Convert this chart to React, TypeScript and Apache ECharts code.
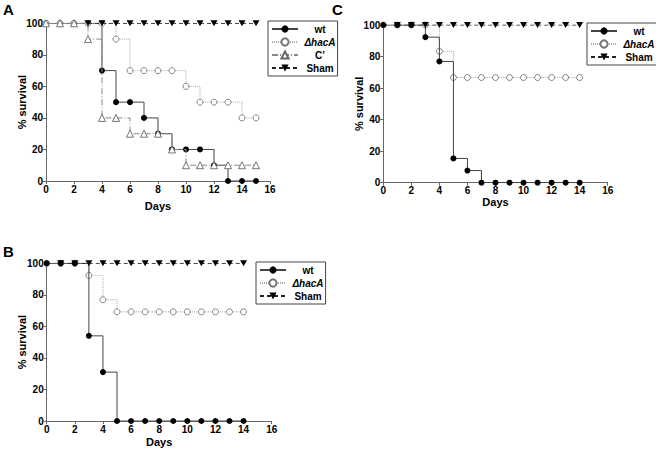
import React, { useEffect, useRef } from "react";
import * as echarts from "echarts";

const daysA = [0, 1, 2, 3, 4, 5, 6, 7, 8, 9, 10, 11, 12, 13, 14, 15];
const wtA = [100, 100, 100, 100, 70, 50, 50, 40, 30, 20, 20, 20, 10, 0, 0, 0];
const hacA_A = [100, 100, 100, 100, 100, 90, 70, 70, 70, 70, 60, 50, 50, 50, 40, 40];
const cA = [100, 100, 100, 90, 40, 40, 30, 30, 30, 20, 10, 10, 10, 10, 10, 10];
const shamA: (number | null)[] = [null, null, null, 100, 100, 100, 100, 100, 100, 100, 100, 100, 100, 100, 100, 100];

const daysB = [0, 1, 2, 3, 4, 5, 6, 7, 8, 9, 10, 11, 12, 13, 14];
const wtB = [100, 100, 100, 54, 31, 0, 0, 0, 0, 0, 0, 0, 0, 0, 0];
const hacA_B = [100, 100, 100, 92.3, 76.9, 69.2, 69.2, 69.2, 69.2, 69.2, 69.2, 69.2, 69.2, 69.2, 69.2];
const shamB: (number | null)[] = [null, 100, 100, 100, 100, 100, 100, 100, 100, 100, 100, 100, 100, 100, 100];

const daysC = [0, 1, 2, 3, 4, 5, 6, 7, 8, 9, 10, 11, 12, 13, 14];
const wtC = [100, 100, 100, 92.3, 76.9, 15.4, 7.7, 0, 0, 0, 0, 0, 0, 0, 0];
const hacA_C = [100, 100, 100, 100, 83.3, 66.7, 66.7, 66.7, 66.7, 66.7, 66.7, 66.7, 66.7, 66.7, 66.7];
const shamC: (number | null)[] = [null, 100, 100, 100, 100, 100, 100, 100, 100, 100, 100, 100, 100, 100, 100];

const xTicks = { min: 0, max: 16, interval: 2 };
const yTicks = { min: 0, max: 100, interval: 20 };

const NAMES = { wt: "wt", hac: "ΔhacA", c: "C’", sham: "Sham" };
const FONT = "Liberation Sans, Arial, sans-serif";
const DOWN_TRI = "path://M0,0 L10,0 L5,9 Z";

function pairs(xs: number[], ys: (number | null)[]) {
  return xs.map((x, i) => [x, ys[i] == null ? "-" : ys[i]]);
}

function wtSeries(i: number, xs: number[], ys: number[], z: number) {
  return {
    name: NAMES.wt, type: "line", xAxisIndex: i, yAxisIndex: i, step: "end",
    data: pairs(xs, ys), symbol: "circle", symbolSize: 6,
    lineStyle: { color: "#444", width: 1 },
    itemStyle: { color: "#000", borderColor: "#000", borderWidth: 0 }, z,
  };
}
function hacSeries(i: number, xs: number[], ys: number[], z: number) {
  return {
    name: NAMES.hac, type: "line", xAxisIndex: i, yAxisIndex: i, step: "end",
    data: pairs(xs, ys), symbol: "circle", symbolSize: 6,
    lineStyle: { color: "#aaa", width: 1, type: [1, 1] },
    itemStyle: { color: "#fff", borderColor: "#777", borderWidth: 0.9 }, z,
  };
}
function cSeries(i: number, xs: number[], ys: number[]) {
  return {
    name: NAMES.c, type: "line", xAxisIndex: i, yAxisIndex: i, step: "end",
    data: pairs(xs, ys), symbol: "triangle", symbolSize: 7,
    lineStyle: { color: "#888", width: 1, type: [6, 2, 1, 2] },
    itemStyle: { color: "#fff", borderColor: "#666", borderWidth: 0.9 }, z: 5,
  };
}
function shamSeries(i: number, xs: number[], ys: (number | null)[]) {
  return {
    name: NAMES.sham, type: "line", xAxisIndex: i, yAxisIndex: i, step: "end",
    data: pairs(xs, ys), symbol: DOWN_TRI, symbolSize: [7, 6], connectNulls: false,
    lineStyle: { color: "#222", width: 1, type: [4, 3] },
    itemStyle: { color: "#000", borderWidth: 0 }, z: 6,
  };
}

function xAxis(i: number, gap: number) {
  return {
    gridIndex: i, type: "value", ...xTicks,
    name: "Days", nameLocation: "middle", nameGap: gap, nameMoveOverlap: false,
    nameTextStyle: { fontFamily: FONT, fontWeight: "bold", fontSize: 11, color: "#000" },
    axisLine: { show: true, lineStyle: { color: "#666", width: 1 } },
    axisTick: { show: true, length: 3, lineStyle: { color: "#666" } },
    axisLabel: { fontFamily: FONT, fontWeight: "bold", fontSize: 10, color: "#000", margin: 3 },
    splitLine: { show: false },
  };
}
function yAxis(i: number) {
  return {
    gridIndex: i, type: "value", ...yTicks,
    name: "% survival", nameLocation: "middle", nameGap: 19, nameMoveOverlap: false,
    nameTextStyle: { fontFamily: FONT, fontWeight: "bold", fontSize: 11, color: "#000" },
    axisLine: { show: true, lineStyle: { color: "#666", width: 1 } },
    axisTick: { show: true, length: 3, lineStyle: { color: "#666" } },
    axisLabel: { fontFamily: FONT, fontWeight: "bold", fontSize: 10, color: "#000", margin: 3 },
    splitLine: { show: false },
  };
}

function legend(names: string[], left: number, top: number) {
  return {
    data: names.map((n) => ({ name: n })),
    orient: "vertical", left, top, itemWidth: 26, itemHeight: 9, itemGap: 3,
    padding: [3, 2, 3, 3], borderColor: "#444", borderWidth: 1, backgroundColor: "#fff",
    selectedMode: false,
    formatter: (n: string) => (n === NAMES.hac ? `{i|${n}}` : `{c|${n}}`),
    textStyle: {
      fontFamily: FONT, fontWeight: "bold", fontSize: 10, color: "#000", padding: [0, 0, 0, -2],
      rich: {
        c: { width: 38, align: "center", fontFamily: FONT, fontWeight: "bold", fontSize: 10 },
        i: { width: 38, align: "center", fontFamily: FONT, fontWeight: "bold", fontStyle: "italic", fontSize: 10 },
      },
    },
  };
}

export default function App() {
  const ref = useRef<HTMLDivElement>(null);
  useEffect(() => {
    if (!ref.current) return;
    const chart = echarts.init(ref.current, undefined, { renderer: "svg" });
    chart.setOption({
      animation: false,
      backgroundColor: "#fff",
      grid: [
        { left: 46, top: 23.3, width: 224, height: 157.7 },
        { left: 46.7, top: 263.3, width: 225, height: 157.7 },
        { left: 383.3, top: 25, width: 224.4, height: 157.7 },
      ],
      xAxis: [xAxis(0, 19), xAxis(1, 15), xAxis(2, 14)],
      yAxis: [yAxis(0), yAxis(1), yAxis(2)],
      legend: [
        legend([NAMES.wt, NAMES.hac, NAMES.c, NAMES.sham], 268, 21),
        legend([NAMES.wt, NAMES.hac, NAMES.sham], 256, 262),
        legend([NAMES.wt, NAMES.hac, NAMES.sham], 587, 23),
      ],
      graphic: [
        { type: "text", left: 3, top: 2, style: { text: "A", font: `bold 15px ${FONT}`, fill: "#000" } },
        { type: "text", left: 3, top: 244, style: { text: "B", font: `bold 15px ${FONT}`, fill: "#000" } },
        { type: "text", left: 332, top: 2, style: { text: "C", font: `bold 15px ${FONT}`, fill: "#000" } },
      ],
      series: [
        wtSeries(0, daysA, wtA, 3), hacSeries(0, daysA, hacA_A, 4), cSeries(0, daysA, cA), shamSeries(0, daysA, shamA),
        wtSeries(1, daysB, wtB, 4), hacSeries(1, daysB, hacA_B, 3), shamSeries(1, daysB, shamB),
        wtSeries(2, daysC, wtC, 4), hacSeries(2, daysC, hacA_C, 3), shamSeries(2, daysC, shamC),
      ],
    });
    return () => chart.dispose();
  }, []);
  return <div ref={ref} style={{ width: 656, height: 450, position: "absolute", left: 0, top: 0 }} />;
}
